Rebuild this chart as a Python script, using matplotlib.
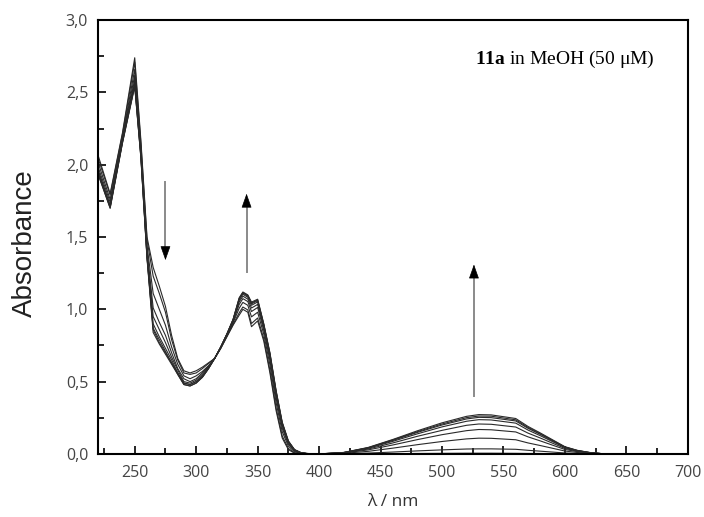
import matplotlib
matplotlib.use("Agg")
import matplotlib.pyplot as plt
from matplotlib.ticker import MultipleLocator, FuncFormatter

plt.rcParams["mathtext.fontset"] = "custom"
plt.rcParams["mathtext.bf"] = "Liberation Serif:bold"
plt.rcParams["mathtext.rm"] = "Liberation Serif"

# wavelength grid (nm)
wavelength = [220, 230, 240, 250, 255, 260, 265, 270, 275, 280, 285, 290, 295, 300,
              305, 310, 315, 320, 325, 330, 335, 338, 342, 345, 350, 355, 360, 365,
              370, 375, 380, 385, 390, 400,
              420, 440, 460, 480, 500, 520, 530, 540, 560, 570, 580, 600, 610, 620,
              630, 640, 700]

# spectra, first to last
spec_0 = [2.07, 1.80, 2.22, 2.74, 2.17, 1.50, 1.29, 1.16, 1.02, 0.82, 0.66, 0.575, 0.56, 0.575,
          0.60, 0.63, 0.66, 0.73, 0.81, 0.89, 0.96, 1.00, 0.98, 0.88, 0.92, 0.78, 0.56, 0.30,
          0.11, 0.03, 0.005, 0, 0, 0,
          0, 0, 0.002, 0.003, 0.004, 0.005, 0.005, 0.005, 0.004, 0.003, 0.003, 0.001, 0, 0,
          0, 0, 0]
spec_1 = [2.05, 1.79, 2.21, 2.71, 2.15, 1.48, 1.23, 1.11, 0.98, 0.79, 0.65, 0.56, 0.55, 0.56,
          0.59, 0.625, 0.66, 0.73, 0.813, 0.895, 0.976, 1.016, 0.996, 0.902, 0.94, 0.796, 0.578, 0.318,
          0.124, 0.038, 0.008, 0.001, 0, 0,
          0.001, 0.006, 0.013, 0.021, 0.028, 0.034, 0.035, 0.035, 0.032, 0.025, 0.019, 0.0065, 0.003, 0.001,
          0, 0, 0]
spec_2 = [2.02, 1.76, 2.19, 2.66, 2.12, 1.44, 1.11, 1.00, 0.89, 0.74, 0.62, 0.54, 0.52, 0.54,
          0.57, 0.61, 0.66, 0.734, 0.818, 0.906, 1.008, 1.048, 1.028, 0.948, 0.98, 0.828, 0.616, 0.356,
          0.154, 0.054, 0.015, 0.004, 0.001, 0,
          0.004, 0.018, 0.04, 0.064, 0.086, 0.104, 0.109, 0.108, 0.098, 0.076, 0.058, 0.02, 0.01, 0.004,
          0.001, 0, 0]
spec_3 = [1.99, 1.74, 2.18, 2.62, 2.10, 1.41, 1.01, 0.91, 0.82, 0.70, 0.59, 0.52, 0.50, 0.52,
          0.56, 0.605, 0.66, 0.736, 0.822, 0.915, 1.034, 1.074, 1.054, 0.985, 1.013, 0.854, 0.647, 0.387,
          0.178, 0.067, 0.021, 0.006, 0.002, 0,
          0.006, 0.028, 0.062, 0.099, 0.133, 0.161, 0.169, 0.167, 0.152, 0.118, 0.09, 0.031, 0.016, 0.006,
          0.001, 0, 0]
spec_4 = [1.97, 1.72, 2.17, 2.59, 2.08, 1.39, 0.95, 0.86, 0.77, 0.67, 0.58, 0.50, 0.49, 0.51,
          0.55, 0.60, 0.66, 0.738, 0.825, 0.92, 1.051, 1.091, 1.071, 1.009, 1.034, 0.871, 0.666, 0.406,
          0.194, 0.076, 0.024, 0.008, 0.002, 0,
          0.008, 0.034, 0.076, 0.122, 0.163, 0.198, 0.207, 0.205, 0.186, 0.144, 0.11, 0.038, 0.019, 0.008,
          0.002, 0, 0]
spec_5 = [1.96, 1.71, 2.16, 2.57, 2.07, 1.37, 0.90, 0.81, 0.73, 0.65, 0.56, 0.49, 0.48, 0.50,
          0.54, 0.595, 0.66, 0.739, 0.827, 0.925, 1.064, 1.104, 1.084, 1.028, 1.051, 0.884, 0.682, 0.422,
          0.206, 0.082, 0.027, 0.009, 0.003, 0,
          0.009, 0.039, 0.087, 0.139, 0.187, 0.226, 0.237, 0.235, 0.213, 0.165, 0.126, 0.0435, 0.022, 0.009,
          0.002, 0, 0]
spec_6 = [1.95, 1.71, 2.16, 2.55, 2.06, 1.36, 0.87, 0.79, 0.71, 0.63, 0.56, 0.49, 0.48, 0.50,
          0.53, 0.59, 0.66, 0.739, 0.829, 0.927, 1.072, 1.112, 1.092, 1.038, 1.06, 0.892, 0.69, 0.43,
          0.212, 0.086, 0.028, 0.009, 0.003, 0,
          0.009, 0.042, 0.093, 0.149, 0.20, 0.242, 0.253, 0.251, 0.228, 0.177, 0.135, 0.0465, 0.023, 0.009,
          0.002, 0, 0]
spec_7 = [1.94, 1.70, 2.15, 2.55, 2.05, 1.36, 0.86, 0.77, 0.70, 0.63, 0.55, 0.48, 0.47, 0.49,
          0.53, 0.59, 0.66, 0.74, 0.829, 0.929, 1.076, 1.116, 1.096, 1.044, 1.065, 0.896, 0.695, 0.435,
          0.216, 0.088, 0.029, 0.01, 0.003, 0,
          0.01, 0.043, 0.097, 0.154, 0.207, 0.251, 0.262, 0.261, 0.236, 0.183, 0.14, 0.048, 0.024, 0.01,
          0.002, 0, 0]
spec_8 = [1.94, 1.70, 2.15, 2.54, 2.05, 1.35, 0.84, 0.76, 0.69, 0.62, 0.55, 0.48, 0.47, 0.49,
          0.53, 0.59, 0.66, 0.74, 0.83, 0.93, 1.08, 1.12, 1.10, 1.05, 1.07, 0.90, 0.70, 0.44,
          0.22, 0.09, 0.03, 0.01, 0.003, 0,
          0.01, 0.045, 0.10, 0.16, 0.215, 0.26, 0.272, 0.27, 0.245, 0.19, 0.145, 0.05, 0.025, 0.01,
          0.002, 0, 0]

spectra = [spec_0, spec_1, spec_2, spec_3, spec_4, spec_5, spec_6, spec_7, spec_8]

# arrows: (x, y start, y tip)
arrows = [(275, 1.88, 1.34), (341, 1.26, 1.80), (526, 0.40, 1.31)]

fig = plt.figure(figsize=(7.04, 5.17), dpi=100)
ax = fig.add_axes([0.139, 0.122, 0.838, 0.839])

for s in spectra:
    ax.plot(wavelength, s, color="#2a2a2a", lw=0.8)

head = 0.085  # head length in data units
for x, y0, y1 in arrows:
    d = 1 if y1 > y0 else -1
    ax.plot([x, x], [y0, y1 - d * head * 0.8], color="#8a8a8a", lw=1.4)
    ax.annotate("", xy=(x, y1), xytext=(x, y1 - d * head),
                arrowprops=dict(arrowstyle="-|>,head_length=0.9,head_width=0.32",
                                color="black", lw=0.5, shrinkA=0, shrinkB=0))

ax.set_xlim(220, 700)
ax.set_ylim(0, 3.0)
ax.xaxis.set_major_locator(MultipleLocator(50))
ax.xaxis.set_minor_locator(MultipleLocator(25))
ax.yaxis.set_major_locator(MultipleLocator(0.5))
ax.yaxis.set_minor_locator(MultipleLocator(0.25))
ax.yaxis.set_major_formatter(FuncFormatter(lambda v, p: f"{v:.1f}".replace(".", ",")))
ax.tick_params(which="both", direction="in", top=False, right=False, width=1.2,
               colors="black", labelcolor="#444444", labelsize=11.5)
ax.tick_params(which="major", length=6)
ax.tick_params(which="minor", length=4)
ax.tick_params(axis="x", which="major", pad=8)
ax.tick_params(axis="y", which="major", pad=7)
for lab in ax.get_xticklabels() + ax.get_yticklabels():
    lab.set_family("Open Sans")
for sp in ax.spines.values():
    sp.set_linewidth(1.5)

ax.set_xlabel("λ / nm", family="Open Sans", fontsize=12.5, color="#333333", labelpad=9)
ax.set_ylabel("Absorbance", family="Liberation Sans", fontsize=20, color="#222222")
ax.yaxis.set_label_coords(-0.102, 0.486)

ax.text(0.944, 0.91, r"$\mathbf{11a}$ in MeOH (50 μM)", transform=ax.transAxes,
        ha="right", va="center", fontsize=14, family="Liberation Serif")

fig.savefig("out.png", dpi=100)
